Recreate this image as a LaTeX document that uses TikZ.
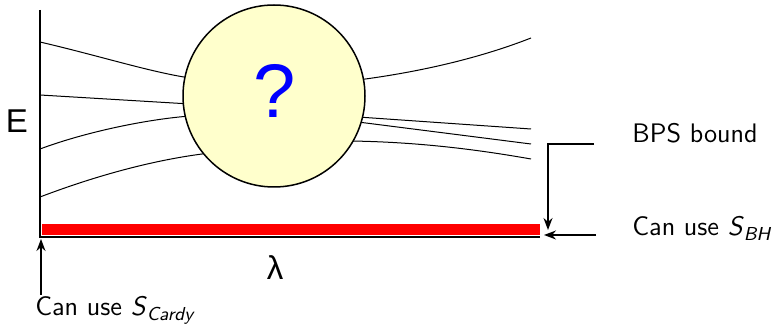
\documentclass[tikz,border=0pt]{standalone}
\usepackage{amsmath}
\usepackage{fontspec}
\newfontfamily\arialf{Liberation Sans}
\usetikzlibrary{arrows.meta}
\definecolor{qfill}{RGB}{255,255,204}
\begin{document}
\begin{tikzpicture}[x=0.5pt,y=-0.5pt,
  font=\sffamily\fontsize{13.4}{15}\selectfont,
  curve/.style={line width=0.5pt},
  axis/.style={line width=1pt},
  arr/.style={line width=0.75pt,-{Stealth[length=6pt,width=4.5pt]}},
  lbl/.style={inner sep=0pt, anchor=base west}]
\useasboundingbox (0,0) rectangle (772,325);
% curves
\draw[curve] (40,42) .. controls (100,56) and (150,72) .. (190,78);
\draw[curve] (40,95) -- (190,104);
\draw[curve] (40,149) .. controls (80,134) and (140,120) .. (190,116);
\draw[curve] (40,197) .. controls (90,178) and (150,160) .. (210,153);
\draw[curve] (358,80) .. controls (420,72) and (480,58) .. (531,38);
\draw[curve] (358,117) -- (531,129);
\draw[curve] (358,122) -- (531,144);
\draw[curve] (350,141) .. controls (420,142) and (480,150) .. (531,159);
% circle
\node[circle, draw, line width=0.75pt, fill=qfill, minimum size=91pt, inner sep=0pt] (q) at (274,96) {};
\node[text=blue, font=\arialf\fontsize{38}{40}\selectfont, inner sep=0pt] (qm) at (275,91) {?};
% bar and axes
\node[fill=red, minimum width=249pt, minimum height=5.5pt, inner sep=0pt, anchor=south west] (bar) at (42,235) {};
\coordinate (ytop) at (40,10);
\coordinate (o) at (40,237);
\coordinate (xend) at (540,237);
\draw[axis] (ytop) -- (o) -- (xend);
\node[font=\arialf\fontsize{16.5}{18}\selectfont, inner sep=0pt] (E) at (17,121) {E};
\node[font=\arialf\fontsize{16.5}{18}\selectfont, inner sep=0pt] (lam) at (275,268) {λ};
% labels
\node[lbl] (cardy) at (35,316) {Can use \textsl{S}$_{\textsl{Cardy}}$};
\node[lbl] (bps) at (632,143) {BPS bound};
\node[lbl] (bh) at (632,236) {Can use \textsl{S}$_{\textsl{BH}}$};
% arrows
\coordinate (c0) at (41,295);
\coordinate (c1) at (41,239);
\draw[arr] (c0) -- (c1);
\coordinate (b0) at (594,144);
\coordinate (b1) at (548,144);
\coordinate (b2) at (548,230);
\draw[arr] (b0) -- (b1) -- (b2);
\coordinate (h0) at (596,235);
\coordinate (h1) at (544,235);
\draw[arr] (h0) -- (h1);
\end{tikzpicture}
\end{document}
